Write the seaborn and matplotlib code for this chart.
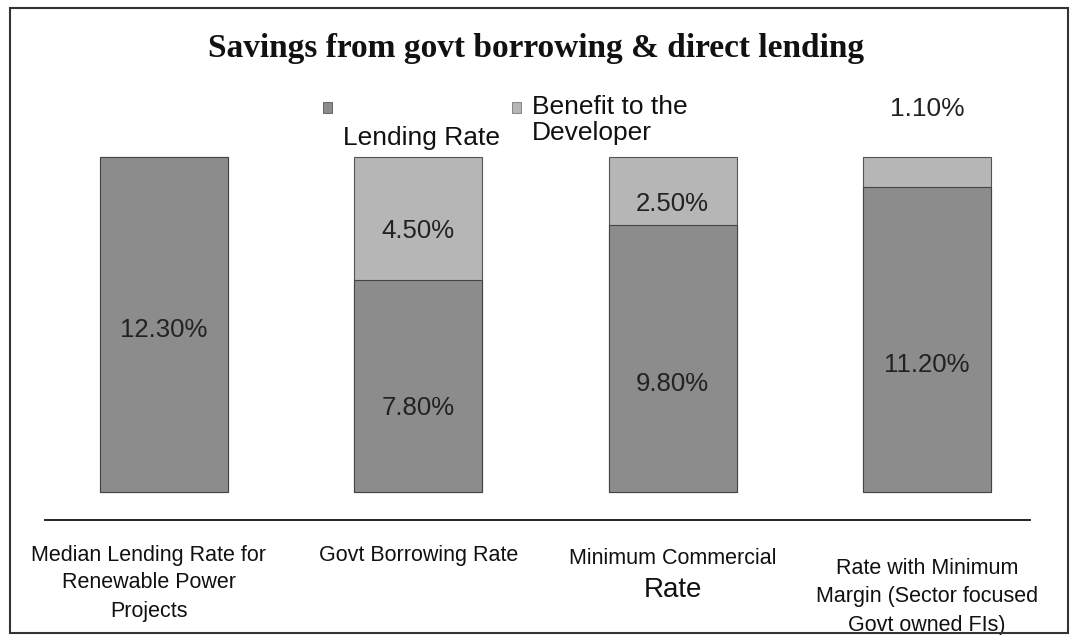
import matplotlib
matplotlib.use("Agg")
import matplotlib.pyplot as plt
import seaborn as sns
import pandas as pd
from matplotlib.patches import Rectangle
from matplotlib.transforms import blended_transform_factory

# ---- data ----
categories = ["Median Lending Rate for\nRenewable Power\nProjects",
              "Govt Borrowing Rate",
              "Minimum Commercial\nRate",
              "Rate with Minimum\nMargin (Sector focused\nGovt owned FIs)"]
lending_rate = [12.30, 7.80, 9.80, 11.20]
benefit = [0.0, 4.50, 2.50, 1.10]
lending_labels = ["12.30%", "7.80%", "9.80%", "11.20%"]
benefit_labels = ["", "4.50%", "2.50%", "1.10%"]
series_names = ["Lending Rate", "Benefit to the\nDeveloper"]
title = "Savings from govt borrowing & direct lending"

sns.set_theme(style="white")
plt.rcParams['font.family'] = ['Liberation Sans', 'DejaVu Sans']

W, H = 1073, 635
def fx(px):
    return px / W
def fy(py):
    return 1 - py / H

df = pd.DataFrame({"cat": [f"c{i}" for i in range(len(categories))],
                   "lend": lending_rate, "ben": benefit})
df["total"] = df["lend"] + df["ben"]

dark = "#8c8c8c"
light = "#b6b6b6"

fig = plt.figure(figsize=(W / 100, H / 100), dpi=100)
ax = fig.add_axes([fx(45), fy(520), (1030 - 45) / W, (520 - 90) / H])

sns.barplot(data=df, x="cat", y="total", color=light, saturation=1, width=0.504,
            edgecolor="#555555", linewidth=0.8, ax=ax)
sns.barplot(data=df, x="cat", y="lend", color=dark, saturation=1, width=0.504,
            edgecolor="#444444", linewidth=0.8, ax=ax)

ax.set_xlim(-0.468, 3.405)
ax.set_ylim(-1.03, 14.78)
for s in ["left", "right", "top"]:
    ax.spines[s].set_visible(False)
ax.spines["bottom"].set_color("#111111")
ax.spines["bottom"].set_linewidth(1.3)
ax.set_xticks([])
ax.set_yticks([])
ax.set_xlabel("")
ax.set_ylabel("")
ax.patch.set_alpha(0)

# value labels
lend_label_dy = [-4, -16, -18, -18]
for i, (l, b) in enumerate(zip(lending_rate, benefit)):
    ax.annotate(lending_labels[i], xy=(i, l / 2), xytext=(0, lend_label_dy[i]), textcoords="offset points",
                ha="center", va="center", fontsize=18.5, color="#222222")
    if benefit_labels[i]:
        if b >= 2:
            ax.annotate(benefit_labels[i], xy=(i, l + b / 2), xytext=(0, -9), textcoords="offset points",
                        ha="center", va="center", fontsize=18.5, color="#222222")
        else:
            ax.annotate(benefit_labels[i], xy=(i, l + b), xytext=(0, 35), textcoords="offset points",
                        ha="center", va="center", fontsize=19, color="#222222")

# category labels under the axis line
trans = blended_transform_factory(ax.transData, fig.transFigure)
first_line_px = [555, 555, 558, 568]
x_shift = [-0.06, 0.0, 0.0, 0.0]
cont_sizes = [15.5, 15.5, 20, 15.5]
gaps = [28, 28, 32, 28.5]
for i, cat in enumerate(categories):
    for j, line in enumerate(cat.split("\n")):
        ax.text(i + x_shift[i], fy(first_line_px[i] + j * gaps[i]), line, transform=trans,
                ha="center", va="center", fontsize=15.5 if j == 0 else cont_sizes[i],
                color="#111111")

# legend
fig.add_artist(Rectangle((fx(323), fy(113)), 9 / W, 11 / H, transform=fig.transFigure,
                         facecolor=dark, edgecolor="#555555", linewidth=0.6))
fig.text(fx(343), fy(138), series_names[0], ha="left", va="center", fontsize=19, color="#111111")
fig.add_artist(Rectangle((fx(512), fy(113)), 9 / W, 11 / H, transform=fig.transFigure,
                         facecolor=light, edgecolor="#777777", linewidth=0.6))
fig.text(fx(532), fy(95), series_names[1], ha="left", va="top", fontsize=19,
         linespacing=1.12, color="#111111")

# title
fig.text(fx(536), fy(48), title, ha="center", va="center", fontsize=24,
         family="Liberation Serif", fontweight="bold", color="#111111")

# frame
fig.add_artist(Rectangle((fx(10), fy(633)), (1068 - 10) / W, (633 - 8) / H,
                         transform=fig.transFigure, fill=False, edgecolor="#333333", linewidth=1.5))

fig.savefig("out.png", dpi=100)
